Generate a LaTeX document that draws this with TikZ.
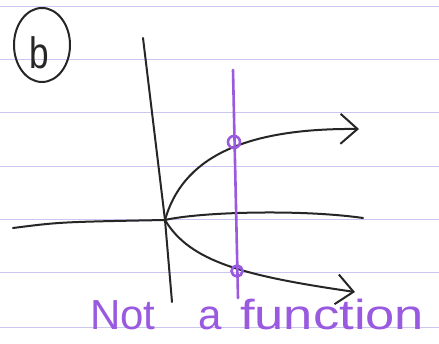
\documentclass[tikz,border=0pt]{standalone}
\usepackage{fontspec}
\setmainfont{Liberation Sans}
\usepackage{xcolor}
\definecolor{inkBlack}{HTML}{262626}
\definecolor{penPurple}{HTML}{9A5AE0}
\definecolor{ruleLine}{HTML}{C9C6EF}
\usepackage{tikz}
\usetikzlibrary{
    shapes.geometric,
    arrows.meta,
    positioning
}
\tikzset{
    % Ruled lines of the notebook paper
    ruled/.style={
        draw=ruleLine,
        line width=1pt,
    },
    % Black pen strokes
    pen/.style={
        draw=inkBlack,
        line width=2pt,
        line cap=round,
        line join=round,
    },
    % Open hand-drawn arrow ends
    pen arrow/.style={
        pen,
        -{Straight Barb[length=17pt, width=30pt, line width=2pt]},
    },
    % Purple pen strokes
    marker/.style={
        draw=penPurple,
        line width=2.6pt,
        line cap=round,
    },
    % Ring around the part label
    tag ring/.style={
        ellipse,
        draw=inkBlack,
        line width=2pt,
        minimum width=56pt,
        minimum height=74pt,
        inner sep=0pt,
    },
    % Handwritten words
    hand text/.style={
        text=penPurple,
        font=\fontsize{42}{42}\selectfont,
        anchor=base west,
        inner sep=0pt,
    },
}

\begin{document}
\begin{tikzpicture}[x=1pt, y=-1pt]
    \useasboundingbox (0,0) rectangle (439,344);
    \fill[white] (0,0) rectangle (439,344);
    \foreach \yy in {7,60,113,167,220,273,328}
        \draw[ruled] (0,\yy) -- (439,\yy);

    % part label
    \node (ring) [tag ring] at (42,45) {};
    \node (partB) [text=inkBlack, font=\fontsize{44}{44}\selectfont, inner sep=0pt] at (39,53) {\scalebox{0.8}[1]{b}};

    % axes
    \coordinate (origin) at (165,220);
    \coordinate (yTop) at (143,38);
    \coordinate (yBot) at (172,302);
    \coordinate (xLeft) at (13,228);
    \coordinate (xRight) at (363,218);
    \draw [pen] (yTop) -- (origin) -- (yBot);
    \draw [pen] (xLeft) .. controls (60,222) .. (origin);
    \draw [pen] (origin) .. controls (200,212) and (300,209) .. (xRight);

    % sideways parabola
    \coordinate (upEnd) at (359,129);
    \coordinate (lowEnd) at (355,292);
    \draw [pen arrow] (origin) .. controls (182,160) and (240,128) .. (upEnd);
    \draw [pen arrow] (origin) .. controls (190,262) and (245,276) .. (lowEnd);

    % vertical line test
    \coordinate (testTop) at (233,70);
    \coordinate (testBot) at (238,298);
    \draw [marker] (testTop) -- (testBot);
    \node (hitUp) [circle, marker, minimum size=12pt, inner sep=0pt] at (234,142) {};
    \node (hitLow) [circle, marker, minimum size=11pt, inner sep=0pt] at (237,271) {};

    % caption
    \node (notWord) [hand text] at (90,330) {Not};
    \node (aWord) [hand text] at (198,330) {a};
    \node (funcWord) [hand text] at (240,330) {\scalebox{1.25}[1]{function}};
\end{tikzpicture}
\end{document}
